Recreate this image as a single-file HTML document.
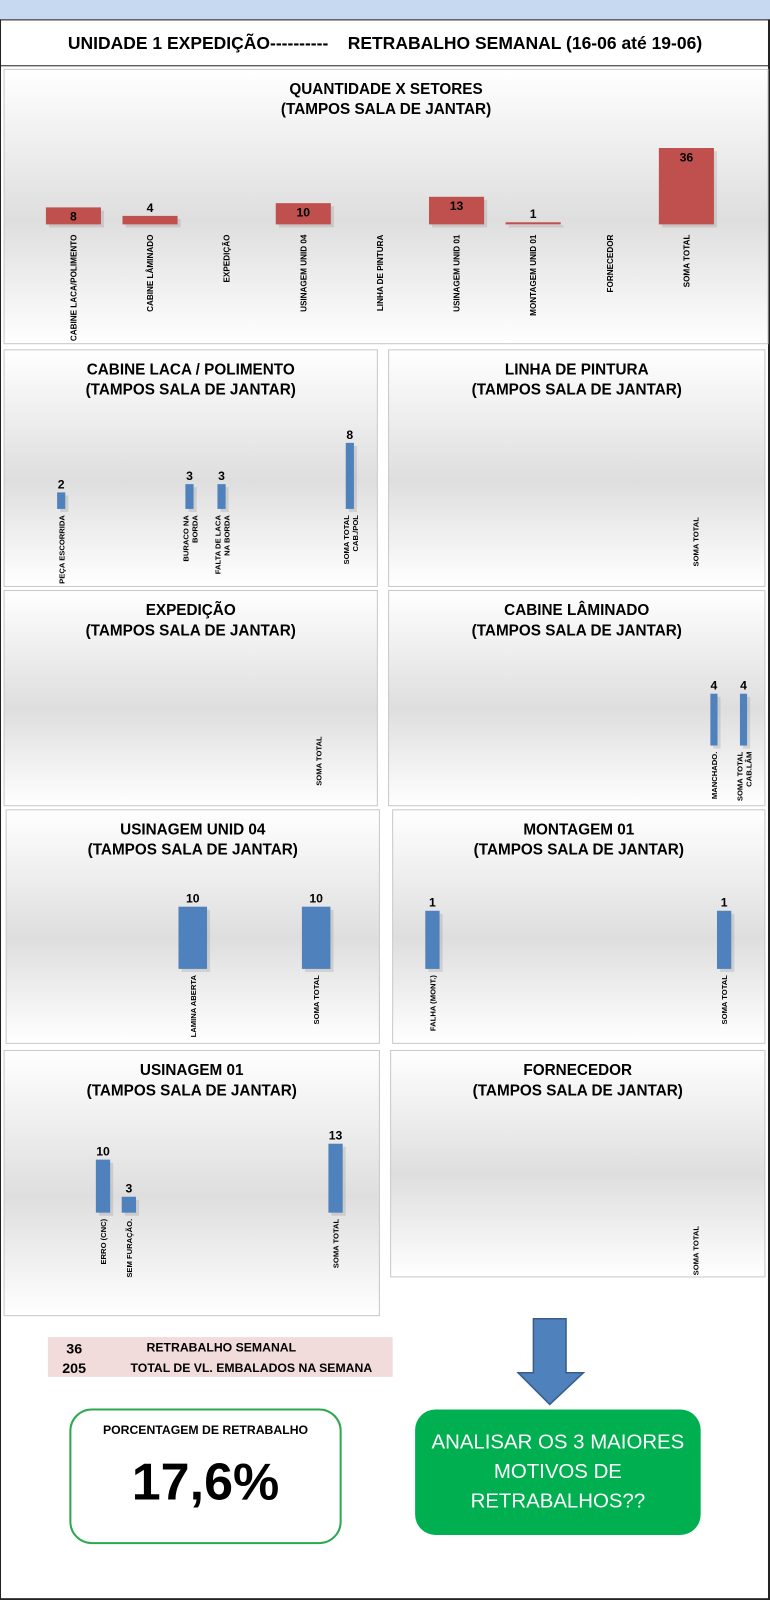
<!DOCTYPE html>
<html><head><meta charset="utf-8">
<style>
body{margin:0;background:#fff;font-family:"Liberation Sans",sans-serif}
#page{position:relative;width:770px;height:1600px;overflow:hidden;background:#fff}
#inner{position:absolute;left:0;top:0;width:755px;height:1569px;transform:scale(1.0199);transform-origin:0 0}
.abs{position:absolute}
svg text{font-family:"Liberation Sans",sans-serif}
</style></head>
<body>
<div id="page">
<div id="inner">
<div class="abs" style="left:0;top:0;width:755px;height:19px;background:#c6d9f0;border-bottom:1px solid #222"></div>
<div class="abs" style="left:0;top:19px;width:752px;height:1548px;border-left:1px solid #222;border-right:2px solid #222;border-bottom:2px solid #222"></div>
<div class="abs" style="left:0;top:20px;width:753px;height:44px;border-bottom:1px solid #222"></div>
<div class="abs" style="left:0;top:32px;width:755px;text-align:center;font-weight:bold;font-size:17.5px;white-space:pre;transform:scaleX(0.98)">UNIDADE 1 EXPEDIÇÃO----------    RETRABALHO SEMANAL (16-06 até 19-06)</div>
<svg id="charts" class="abs" style="left:0;top:0" width="755" height="1300">
<defs><linearGradient id="bg" x1="0" y1="0" x2="0" y2="1">
<stop offset="0" stop-color="#ffffff"/><stop offset="0.55" stop-color="#dedede"/><stop offset="1" stop-color="#ffffff"/></linearGradient></defs>
</svg>
<div class="abs" style="left:47px;top:1311px;width:338px;height:39px;background:#f2dcdb;font-size:12px;font-weight:bold">
<div class="abs" style="left:18px;top:3px;font-size:14px">36</div>
<div class="abs" style="left:70px;top:3px;width:200px;text-align:center">RETRABALHO SEMANAL</div>
<div class="abs" style="left:14px;top:22px;font-size:14px">205</div>
<div class="abs" style="left:81px;top:23px;width:250px;text-align:left">TOTAL DE VL. EMBALADOS NA SEMANA</div>
</div>
<svg class="abs" style="left:505px;top:1290px" width="72" height="92">
<polygon points="18,3 50,3 50,56 67,56 34,87 3,56 18,56" fill="#4f81bd" stroke="#385d8a" stroke-width="1.5"/>
</svg>
<div class="abs" style="left:68px;top:1381px;width:263px;height:129px;border:2px solid #2ea84f;border-radius:22px;text-align:center">
<div style="margin-top:12px;font-size:12px;font-weight:bold">PORCENTAGEM DE RETRABALHO</div>
<div style="margin-top:14px;font-size:51px;font-weight:bold">17,6%</div>
</div>
<div class="abs" style="left:407px;top:1382px;width:280px;height:123px;background:#00b050;border-radius:20px;color:#fff;text-align:center;font-size:20px;line-height:29px;padding-top:18px;box-sizing:border-box">ANALISAR OS 3 MAIORES<br>MOTIVOS DE<br>RETRABALHOS??</div>
</div>
</div>
<script>
const mainCats=["CABINE LACA/POLIMENTO","CABINE LÂMINADO","EXPEDIÇÃO","USINAGEM UNID 04","LINHA DE PINTURA","USINAGEM UNID 01","MONTAGEM UNID 01","FORNECEDOR","SOMA TOTAL"];
const mainVals=[8,4,0,10,0,13,1,0,36];
const lacaCats=["PEÇA ESCORRIDA","","","","BURACO NA|BORDA","FALTA DE LACA|NA BORDA","","","","SOMA TOTAL|CAB./POL"];
const lacaVals=[2,0,0,0,3,3,0,0,0,8];
const pinturaCats=["SOMA TOTAL"];
const pinturaVals=[0];
const expedCats=["SOMA TOTAL"];
const expedVals=[0];
const laminCats=["MANCHADO.","SOMA TOTAL|CAB.LÂM"];
const laminVals=[4,4];
const us04Cats=["LAMINA ABERTA","SOMA TOTAL"];
const us04Vals=[10,10];
const montCats=["FALHA (MONT.)","","","","","","","","","","SOMA TOTAL"];
const montVals=[1,0,0,0,0,0,0,0,0,0,1];
const us01Cats=["ERRO (CNC)","SEM FURAÇÃO.","","","","","","","","SOMA TOTAL"];
const us01Vals=[10,3,0,0,0,0,0,0,0,13];
const fornCats=["SOMA TOTAL"];
const fornVals=[0];

const svg=document.getElementById('charts');
const NS='http://www.w3.org/2000/svg';
function mk(tag,attrs){const e=document.createElementNS(NS,tag);for(const k in attrs)e.setAttribute(k,attrs[k]);return e;}
function panel(o,cats,vals){
  const g=mk('g',{});
  
  
  svg.appendChild(g);
  const r=mk('rect',{x:o.x,y:o.y,width:o.w,height:o.h,fill:'url(#bg)',stroke:'#c8c8c8'});
  
  
  g.appendChild(r);
  const cx=o.x+o.w/2;
  o.title.forEach((t,i)=>{
    const tx=mk('text',{x:cx,y:o.y+24+i*20,'text-anchor':'middle','font-size':15,'font-weight':'bold'});
    tx.textContent=t;
    
    
    g.appendChild(tx);
  });
  const n=cats.length;
  const xAt=i=> n===1? o.x0 : o.x0+(o.x1-o.x0)*i/(n-1);
  const yAt=v=> o.base-v*o.ppu;
  cats.forEach((c,i)=>{
    const x=xAt(i),v=vals[i];
    if(v>0){
      const top=yAt(v);
      const sh=mk('rect',{x:x-o.bw/2+3,y:top+3,width:o.bw,height:o.base-top,fill:'#000',opacity:0.1});
      
      
      g.appendChild(sh);
      const b=mk('rect',{x:x-o.bw/2,y:top,width:o.bw,height:Math.max(o.base-top,1.5),fill:o.color});
      
      
      g.appendChild(b);
      const inside=o.labelInside && (o.base-top)>14;
      const lt=mk('text',{x:x,y:inside?top+13:top-4,'text-anchor':'middle','font-size':12,'font-weight':'bold'});
      lt.textContent=v;
      
      
      g.appendChild(lt);
    }
    if(c){
      const parts=c.split('|');
      const t=mk('text',{transform:`translate(${x},${o.base+(o.lblGap||6)}) rotate(-90)`,'text-anchor':'end','font-size':o.lblSize||7.5,'font-weight':'bold'});
      parts.forEach((p,j)=>{const ts=mk('tspan',{x:0,dy:j===0?(parts.length>1?-1:3):9});ts.textContent=p;t.appendChild(ts);});
      
      
      g.appendChild(t);
    }
  });
}
const T2="(TAMPOS SALA DE JANTAR)";
panel({name:'sectors-chart',x:4,y:68,w:753-4,h:269,title:["QUANTIDADE X SETORES",T2],x0:72,x1:673,base:220,ppu:2.08,bw:54,color:'#c0504d',labelInside:true,lblGap:10,lblSize:8},mainCats,mainVals);
panel({name:'cabine-laca-chart',x:4,y:343,w:366,h:232,title:["CABINE LACA / POLIMENTO",T2],x0:60,x1:343,base:499,ppu:8.1,bw:8,color:'#4f81bd'},lacaCats,lacaVals);
panel({name:'linha-pintura-chart',x:381,y:343,w:369,h:232,title:["LINHA DE PINTURA",T2],x0:682,x1:682,base:501,ppu:8,bw:8,color:'#4f81bd'},pinturaCats,pinturaVals);
panel({name:'expedicao-chart',x:4,y:579,w:366,h:211,title:["EXPEDIÇÃO",T2],x0:312,x1:312,base:716,ppu:8,bw:8,color:'#4f81bd'},expedCats,expedVals);
panel({name:'cabine-laminado-chart',x:381,y:579,w:369,h:211,title:["CABINE LÂMINADO",T2],x0:700,x1:729,base:731,ppu:12.7,bw:7,color:'#4f81bd'},laminCats,laminVals);
panel({name:'usinagem-04-chart',x:6,y:794,w:366,h:229,title:["USINAGEM UNID 04",T2],x0:189,x1:310,base:950,ppu:6.1,bw:28,color:'#4f81bd'},us04Cats,us04Vals);
panel({name:'montagem-01-chart',x:385,y:794,w:365,h:229,title:["MONTAGEM 01",T2],x0:424,x1:710,base:950,ppu:57,bw:14,color:'#4f81bd'},montCats,montVals);
panel({name:'usinagem-01-chart',x:4,y:1030,w:368,h:260,title:["USINAGEM 01",T2],x0:101,x1:329,base:1189,ppu:5.2,bw:14,color:'#4f81bd'},us01Cats,us01Vals);
panel({name:'fornecedor-chart',x:383,y:1030,w:367,h:222,title:["FORNECEDOR",T2],x0:682,x1:682,base:1196,ppu:8,bw:8,color:'#4f81bd'},fornCats,fornVals);
</script>
</body></html>
